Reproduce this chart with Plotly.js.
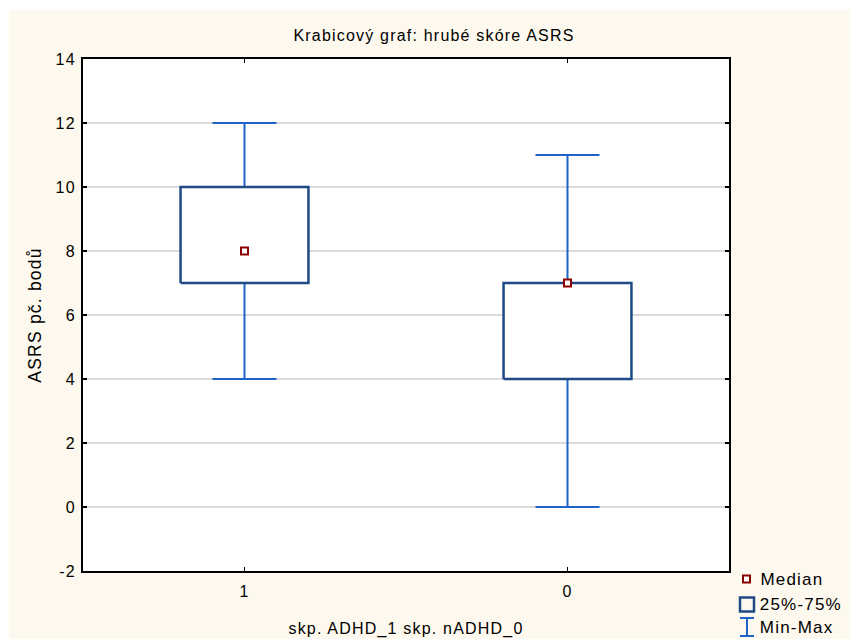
<!DOCTYPE html>
<html>
<head>
<meta charset="utf-8">
<script src="https://cdn.plot.ly/plotly-3.0.1.min.js"></script>
<style>
  html, body { margin: 0; padding: 0; background: #ffffff; }
  #chart { width: 850px; height: 639px; }
  #chart svg text { letter-spacing: 1.2px; }
</style>
</head>
<body>
<div id="chart"></div>
<script>
// ---- data ----
var categories = ['1', '0'];
var minVals    = [4, 0];
var q1Vals     = [7, 4];
var medianVals = [8, 7];
var q3Vals     = [10, 7];
var maxVals    = [12, 11];
var yTickVals  = [-2, 0, 2, 4, 6, 8, 10, 12, 14];
var yTickText  = ['-2', '0', '2', '4', '6', '8', '10', '12', '14'];

// ---- styles ----
var boxColor = '#1F4A85';
var whiskerColor = '#1E64C8';
var medianColor = '#8B0000';
var fontFam = '"Liberation Sans", Arial, sans-serif';
var boxHalf = 0.198;

var pos = categories.map(function (c, i) { return i; });

// whiskers (min-max) as error bars around the median
var whiskers = {
  type: 'scatter', mode: 'markers', x: pos, y: medianVals,
  marker: { size: 1, opacity: 0 },
  error_y: {
    type: 'data', symmetric: false,
    array: maxVals.map(function (v, i) { return v - medianVals[i]; }),
    arrayminus: medianVals.map(function (v, i) { return v - minVals[i]; }),
    color: whiskerColor, thickness: 2, width: 32
  },
  hoverinfo: 'skip', showlegend: false
};

// boxes (25%-75%)
var bx = [], by = [];
pos.forEach(function (p, i) {
  bx.push(p - boxHalf, p + boxHalf, p + boxHalf, p - boxHalf, p - boxHalf, null);
  by.push(q1Vals[i], q1Vals[i], q3Vals[i], q3Vals[i], q1Vals[i], null);
});
var boxes = {
  type: 'scatter', mode: 'lines', x: bx, y: by,
  fill: 'toself', fillcolor: '#ffffff',
  line: { color: boxColor, width: 2.5 },
  hoverinfo: 'skip', showlegend: false
};

// medians
var medians = {
  type: 'scatter', mode: 'markers', x: pos, y: medianVals,
  marker: { symbol: 'square', size: 7, color: '#ffffff', line: { color: medianColor, width: 2 } },
  showlegend: false
};

// px -> paper helpers (plot area 83..729 x 59..571)
function px(v) { return (v - 83) / 646; }
function py(v) { return (571 - v) / 512; }

var shapes = [
  { type: 'rect', xref: 'paper', yref: 'paper', layer: 'below',
    x0: px(9), x1: px(851), y0: py(640), y1: py(10),
    fillcolor: '#FEF9EE', line: { width: 0 } },
  { type: 'rect', xref: 'paper', yref: 'paper', layer: 'below',
    x0: 0, x1: 1, y0: 0, y1: 1, fillcolor: '#ffffff', line: { width: 0 } },
  // legend symbols
  { type: 'rect', xref: 'paper', yref: 'paper',
    x0: px(743), x1: px(750), y0: py(582.5), y1: py(575.5),
    fillcolor: '#ffffff', line: { color: medianColor, width: 2 } },
  { type: 'rect', xref: 'paper', yref: 'paper',
    x0: px(740), x1: px(754), y0: py(611.5), y1: py(597.5),
    fillcolor: 'rgba(0,0,0,0)', line: { color: boxColor, width: 2.5 } },
  { type: 'line', xref: 'paper', yref: 'paper',
    x0: px(747), x1: px(747), y0: py(636), y1: py(618), line: { color: whiskerColor, width: 2 } },
  { type: 'line', xref: 'paper', yref: 'paper',
    x0: px(740), x1: px(754), y0: py(618), y1: py(618), line: { color: whiskerColor, width: 2 } },
  { type: 'line', xref: 'paper', yref: 'paper',
    x0: px(740), x1: px(754), y0: py(636), y1: py(636), line: { color: whiskerColor, width: 2 } }
];

var legendLabels = ['Median', '25%-75%', 'Min-Max'];
var legendY = [579, 604, 627];
var annotations = legendLabels.map(function (t, i) {
  return { text: t, xref: 'paper', yref: 'paper', x: px(762), y: py(legendY[i]),
           xanchor: 'left', yanchor: 'middle', showarrow: false,
           font: { family: fontFam, size: 17, color: '#000000' } };
});

var layout = {
  width: 850, height: 639,
  margin: { l: 83, r: 121, t: 59, b: 68 },
  paper_bgcolor: '#ffffff',
  plot_bgcolor: '#ffffff',
  font: { family: fontFam, size: 16, color: '#000000' },
  title: { text: 'Krabicový graf: hrubé skóre ASRS', xref: 'paper', x: px(434), xanchor: 'center',
           yref: 'container', y: 1 - 35 / 639, yanchor: 'middle',
           font: { family: fontFam, size: 16, color: '#000000' } },
  xaxis: {
    range: [-0.5, 1.5], tickvals: pos, ticktext: categories,
    showgrid: false, zeroline: false,
    showline: true, linecolor: '#000000', linewidth: 2, mirror: 'ticks',
    ticks: 'inside', ticklen: 4, tickwidth: 1.5, tickcolor: '#000000',
    ticklabelstandoff: 5,
    title: { text: 'skp. ADHD_1 skp. nADHD_0', standoff: 24, font: { size: 16 } },
    fixedrange: true
  },
  yaxis: {
    range: [-2, 14], tickvals: yTickVals, ticktext: yTickText,
    showgrid: true, gridcolor: '#DADADA', gridwidth: 1.5, zeroline: false,
    showline: true, linecolor: '#000000', linewidth: 2, mirror: 'ticks',
    ticks: 'inside', ticklen: 4, tickwidth: 1.5, tickcolor: '#000000',
    ticklabelstandoff: 2,
    title: { text: 'ASRS pč. bodů', standoff: 12, font: { size: 17.5 } },
    fixedrange: true
  },
  shapes: shapes,
  annotations: annotations,
  showlegend: false
};

Plotly.newPlot('chart', [whiskers, boxes, medians], layout, { displayModeBar: false, staticPlot: true });
</script>
</body>
</html>
